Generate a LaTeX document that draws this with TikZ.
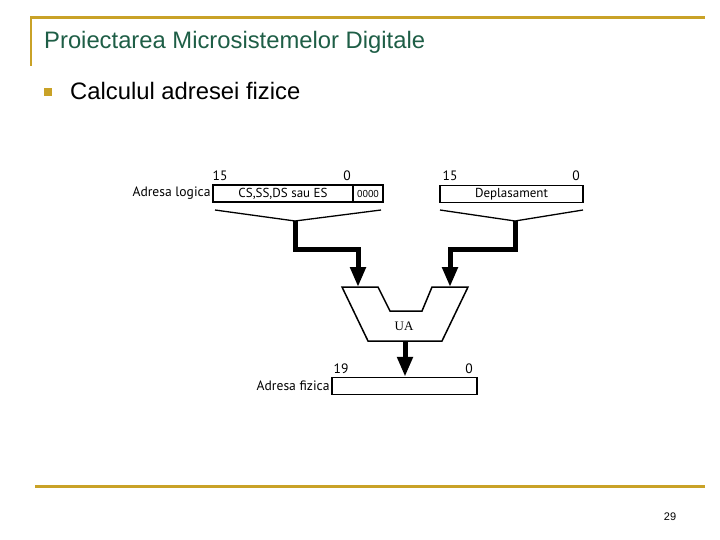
\documentclass[tikz,border=0pt]{standalone}
\usepackage{fontspec}
\setmainfont{Liberation Sans}
\newfontfamily\labelfont{PT Sans}
\newfontfamily\uafont{Liberation Serif}
\usetikzlibrary{arrows.meta,positioning}
\definecolor{slidegold}{RGB}{201,162,39}
\definecolor{slidegreen}{RGB}{30,94,70}

\begin{document}
\begin{tikzpicture}[x=1pt,y=-1pt,
		reg/.style={draw,line width=1.5pt,minimum height=17pt,inner sep=0pt,font=\labelfont\fontsize{13}{13}\selectfont},
		lbl/.style={font=\labelfont\fontsize{13.6}{14}\selectfont,inner sep=1pt},
		bus/.style={line width=5pt,line join=miter,-{Triangle[width=15pt,length=20pt]}},
		fan/.style={line width=1.3pt}]
	\useasboundingbox (0,0) rectangle (720,540);
	% slide frame
	\draw[slidegold,line width=3pt] (30,18) -- (705,18);
	\draw[slidegold,line width=2pt] (31,17) -- (31,66);
	\draw[slidegold,line width=3pt] (35,486) -- (705,486);
	\node[anchor=base west,text=slidegreen,font=\fontsize{23.8}{24}\selectfont,inner sep=0pt] (title) at (44,49) {Proiectarea Microsistemelor Digitale};
	\node[fill=slidegold,minimum size=8pt,inner sep=0pt] (bullet) at (47.5,92.5) {};
	\node[anchor=base west,font=\fontsize{23.8}{24}\selectfont,inner sep=0pt] (topic) at (70,100) {Calculul adresei fizice};
	\node[anchor=base,font=\fontsize{11}{11}\selectfont] (page) at (670,520) {29};
	
	% registers
	\node[reg,minimum width=140pt] (seg) at (283,193.5) {CS,SS,DS sau ES};
	\node[reg,minimum width=30pt,right=-1.5pt of seg,font=\labelfont\fontsize{10}{10}\selectfont] (zero) {0000};
	\node[reg,minimum width=143pt] (depl) at (511.5,194) {Deplasament};
	\node[reg,minimum width=145pt] (fiz) at (404.5,386) {};
	\node[lbl,left=0.5pt of seg] (logica) {Adresa logica};
	\node[lbl,left=0.5pt of fiz] (fizica) {Adresa fizica};
	\node[lbl,anchor=base] (s15) at (220,181) {15};
	\node[lbl,anchor=base] (s0) at (347,181) {0};
	\node[lbl,anchor=base] (d15) at (450,181) {15};
	\node[lbl,anchor=base] (d0) at (576,181) {0};
	\node[lbl,anchor=base] (f19) at (341,373) {19};
	\node[lbl,anchor=base] (f0) at (469,373) {0};
	
	% adder
	\draw[line width=1.5pt] (342,287) -- (378,287) -- (390,311) -- (422,311) -- (432,287) -- (468,287) -- (442,341) -- (368,341) -- cycle;
	\node[font=\uafont\fontsize{13}{13}\selectfont] (ua) at (404,326) {UA};
	\coordinate (uain1) at (358,287);
	\coordinate (uain2) at (450,287);
	\coordinate (uaout) at (405,341);
	
	% fan-in brackets
	\coordinate (segtip) at (295,221);
	\coordinate (depltip) at (515,221);
	\draw[fan] (215,210) -- (segtip) -- (381,210);
	\draw[fan] (440,210) -- (depltip) -- (583,210);
	
	\draw[bus] (segtip) -- (295,249) -| (uain1);
	\draw[bus] (depltip) -- (515,249) -| (uain2);
	\draw[bus] (uaout) -- (fiz.north -| uaout);
\end{tikzpicture}
\end{document}
